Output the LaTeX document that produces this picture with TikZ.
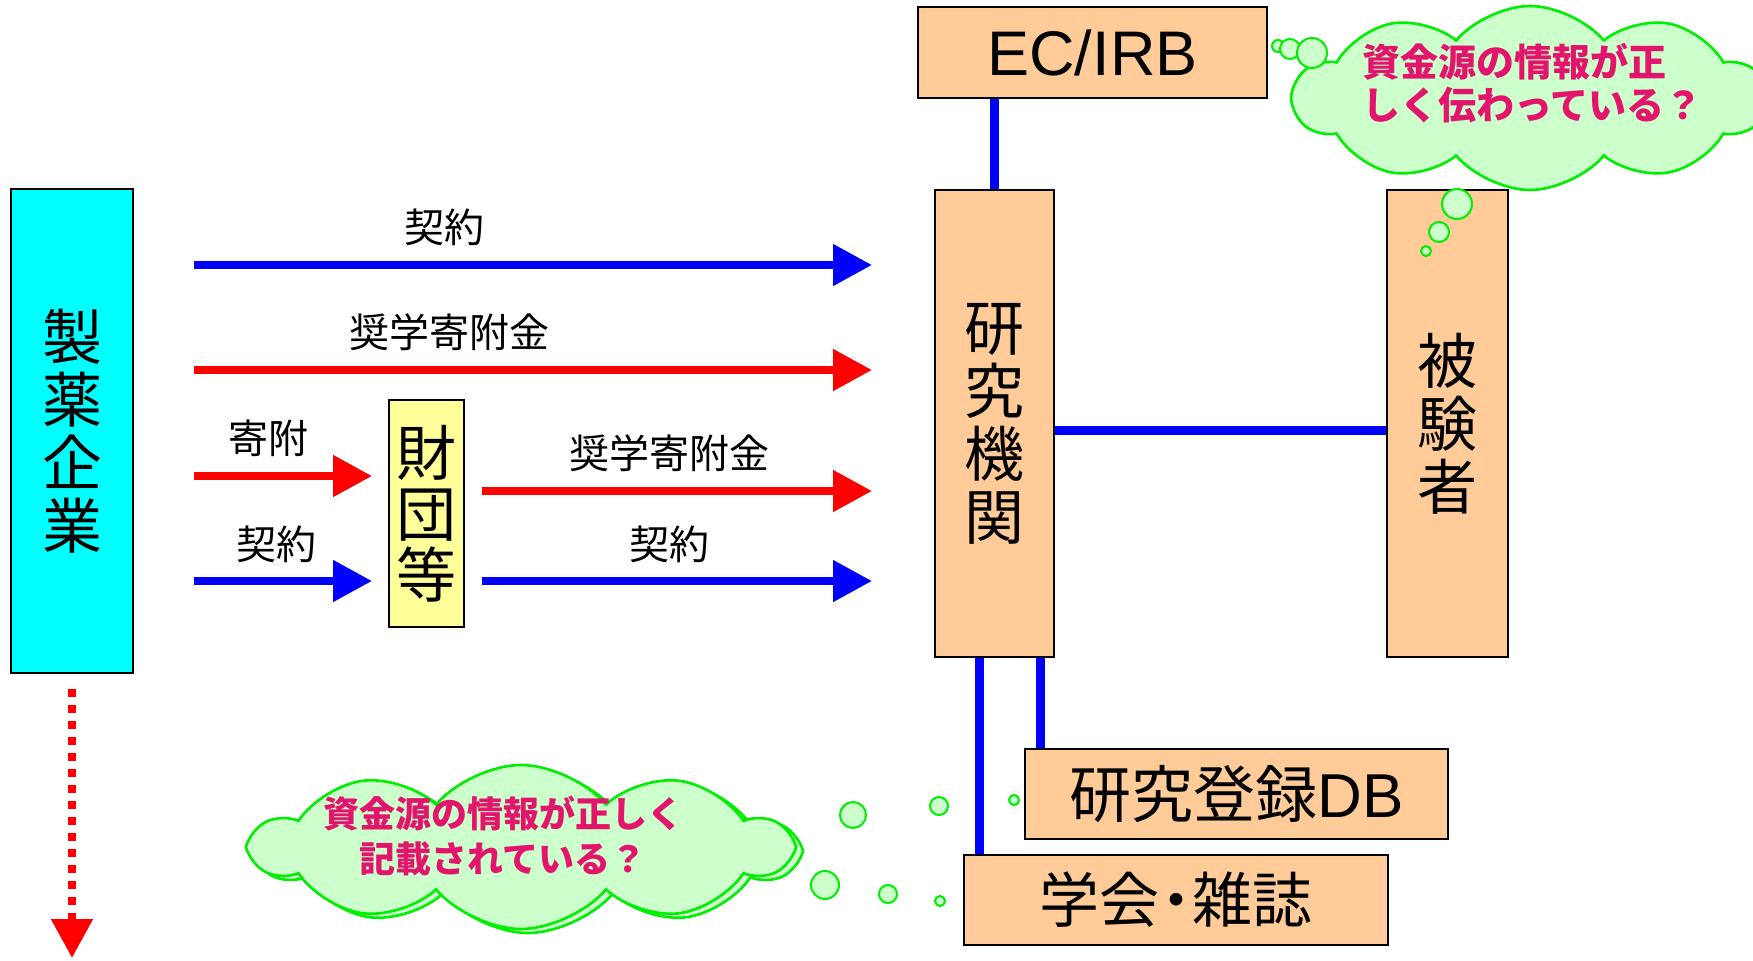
\documentclass[tikz,border=0pt]{standalone}
\usepackage{fontspec}
\setmainfont{Liberation Sans}
\newfontfamily\cjk{Noto Sans CJK JP}
\usetikzlibrary{arrows.meta,shapes.symbols}
\definecolor{peach}{RGB}{255,204,153}
\definecolor{cyanbox}{RGB}{0,255,255}
\definecolor{yelbox}{RGB}{255,255,153}
\definecolor{cloudfill}{RGB}{204,255,204}
\definecolor{cloudline}{RGB}{0,238,0}
\definecolor{cloudtext}{RGB}{226,20,108}
\definecolor{pblue}{RGB}{0,0,255}
\definecolor{pred}{RGB}{255,0,0}
\tikzset{
  box/.style={draw=black, line width=1pt, inner sep=0pt, font=\cjk\fontsize{30}{31.5}\selectfont, align=center},
  conn/.style={draw=pblue, line width=4.5pt},
  barrow/.style={draw=pblue, line width=4pt, -{Triangle[length=19.5pt,width=20pt]}},
  rarrow/.style={draw=pred, line width=4pt, -{Triangle[length=19.5pt,width=20pt]}},
  lbl/.style={font=\cjk\fontsize{20}{24}\selectfont, inner sep=0pt},
  cloudsty/.style={cloud, cloud puffs=10, cloud puff arc=100, cloud ignores aspect, draw=cloudline, fill=cloudfill, line width=1.3pt, inner sep=0pt},
  bubble/.style={circle, draw=cloudline, fill=cloudfill, line width=1pt, inner sep=0pt},
  cloudtxt/.style={font=\cjk\bfseries\fontsize{19}{21.5}\selectfont, text=cloudtext, inner sep=0pt}
}
\begin{document}
\begin{tikzpicture}[x=0.5pt,y=-0.5pt]
\useasboundingbox (0,0) rectangle (1753,960);
\clip (0,0) rectangle (1753,960);
% boxes
\node[box, fill=peach, minimum width=174.5pt, minimum height=45.5pt, font=\fontsize{31.5}{36}\selectfont] (irb) at (1092.5,52.5) {EC/IRB};
\node[box, fill=peach, minimum width=59.5pt, minimum height=233.5pt] (lab) at (994.5,423.5) {研\\究\\機\\関};
\node[box, fill=peach, minimum width=60.5pt, minimum height=233.5pt] (subj) at (1447.5,423.5) {被\\験\\者};
\node[box, fill=cyanbox, minimum width=61pt, minimum height=242pt] (pharma) at (72,431) {製\\薬\\企\\業};
\node[box, fill=yelbox, minimum width=37.5pt, minimum height=113.5pt, font=\cjk\fontsize{30}{30.5}\selectfont] (found) at (426.5,513.5) {財\\団\\等};
\node[box, fill=peach, minimum width=211.5pt, minimum height=45pt, font=\fontsize{31}{36}\selectfont] (reg) at (1236.5,794) {{\cjk 研究登録}DB};
\node[box, fill=peach, minimum width=212pt, minimum height=45pt, font=\cjk\fontsize{30}{36}\selectfont] (soc) at (1176,900) {学会\hspace{-0.22em}・\hspace{-0.22em}雑誌};
% helper coordinates
\coordinate (y1) at (0,265);
\coordinate (y2) at (0,370);
\coordinate (y3) at (0,476);
\coordinate (y4) at (0,581);
\coordinate (y5) at (0,491);
\coordinate (yh) at (0,430);
\coordinate (xr) at (1040,0);
\coordinate (xs) at (979,0);
\coordinate (dend) at (72,958);
% blue connectors
\draw[conn] (irb.south -| lab.north) -- (lab.north);
\draw[conn] (lab.east |- yh) -- (subj.west |- yh);
\draw[conn] (lab.south -| xr) -- (reg.north -| xr);
\draw[conn] (lab.south -| xs) -- (soc.north -| xs);
% money flow arrows
\draw[barrow, shorten <=30pt, shorten >=31pt] (pharma.east |- y1) -- (lab.west |- y1);
\draw[rarrow, shorten <=30pt, shorten >=31pt] (pharma.east |- y2) -- (lab.west |- y2);
\draw[rarrow, shorten <=30pt, shorten >=8pt] (pharma.east |- y3) -- (found.west |- y3);
\draw[barrow, shorten <=30pt, shorten >=8pt] (pharma.east |- y4) -- (found.west |- y4);
\draw[rarrow, shorten <=8.5pt, shorten >=31pt] (found.east |- y5) -- (lab.west |- y5);
\draw[barrow, shorten <=8.5pt, shorten >=31pt] (found.east |- y4) -- (lab.west |- y4);
\draw[draw=pred, line width=4pt, dash pattern=on 4pt off 4pt, shorten <=7.5pt, -{Triangle[length=19.5pt,width=20pt]}] (pharma.south) -- (dend);
% labels
\node[lbl] (l1) at (444,227) {契約};
\node[lbl] (l2) at (449,332) {奨学寄附金};
\node[lbl] (l3) at (268,438) {寄附};
\node[lbl] (l4) at (276,544) {契約};
\node[lbl] (l5) at (669,453) {奨学寄附金};
\node[lbl] (l6) at (669,544) {契約};
% top cloud
\node[cloudsty, minimum width=236pt, minimum height=92pt] (c1) at (1530,98) {};
\node[cloudtxt, align=left, anchor=west] (t1) at (1362,83) {資金源の情報が正\\しく伝わっている？};
\node[bubble, minimum size=6pt] (b1) at (1278,46) {};
\node[bubble, minimum size=10pt] (b2) at (1290,49) {};
\node[bubble, minimum size=15pt] (b3) at (1312,53) {};
\node[bubble, minimum size=15pt] (b4) at (1457,204) {};
\node[bubble, minimum size=10pt] (b5) at (1439,232) {};
\node[bubble, minimum size=5pt] (b6) at (1426,251) {};
% bottom cloud
\node[cloudsty, minimum width=268pt, minimum height=82pt] (c2b) at (528,851) {};
\node[cloudsty, minimum width=268pt, minimum height=82pt] (c2) at (521,847) {};
\node[cloudtxt, align=center, font=\cjk\bfseries\fontsize{18}{22.5}\selectfont] (t2) at (503,836) {資金源の情報が正しく\\記載されている？};
\node[bubble, minimum size=13pt] (b7) at (853,815) {};
\node[bubble, minimum size=9pt] (b8) at (939,806) {};
\node[bubble, minimum size=5pt] (b9) at (1014,800) {};
\node[bubble, minimum size=14pt] (b10) at (825,885) {};
\node[bubble, minimum size=9pt] (b11) at (888,894) {};
\node[bubble, minimum size=5pt] (b12) at (940,901) {};
\end{tikzpicture}
\end{document}
